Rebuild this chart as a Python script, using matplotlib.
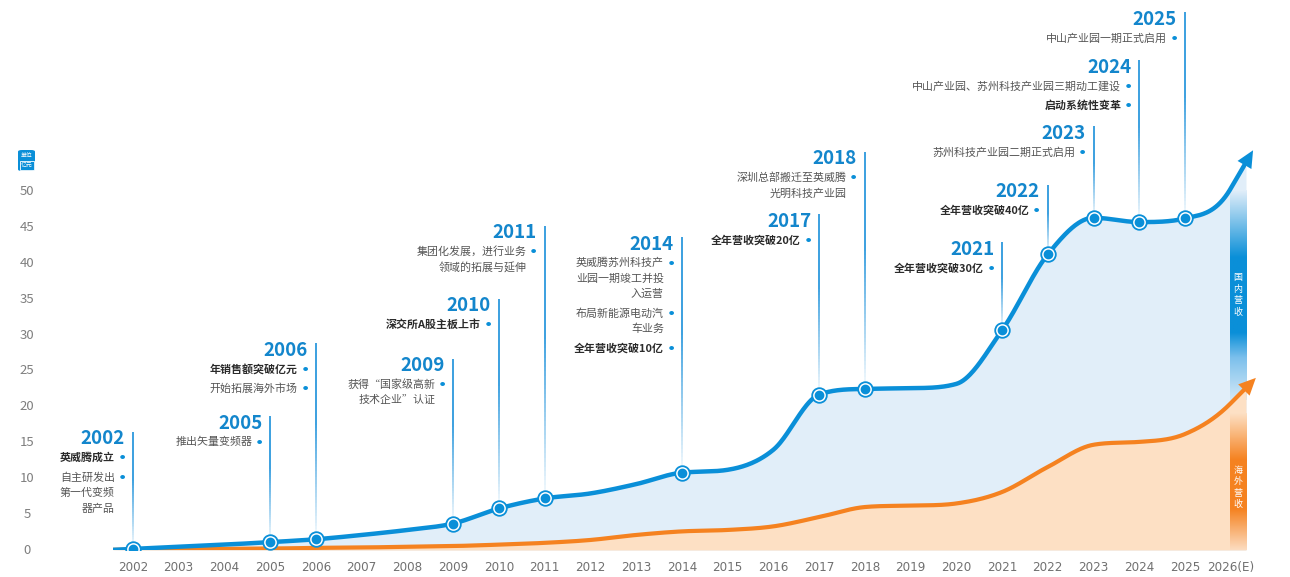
import numpy as np
import matplotlib
matplotlib.use("Agg")
import matplotlib.pyplot as plt
import matplotlib.transforms as mtransforms
from matplotlib.collections import LineCollection
from matplotlib.colors import to_rgba
from matplotlib.patches import Polygon, FancyBboxPatch, Rectangle

# ---- data (revenue, 亿元) ----
years = list(range(2002, 2027))
year_labels = [str(y) for y in range(2002, 2026)] + ["2026(E)"]
total_rev = [0.15, 0.45, 0.75, 1.1, 1.5, 2.1, 2.8, 3.7, 5.8, 7.2, 7.9, 9.2, 10.8,
             11.2, 14.0, 21.7, 22.5, 22.6, 23.2, 30.7, 41.3, 46.4, 45.8, 46.3, 50.5]
overseas_rev = [0.05, 0.1, 0.15, 0.2, 0.3, 0.35, 0.45, 0.55, 0.75, 1.0, 1.4, 2.1, 2.6,
                2.8, 3.3, 4.6, 6.0, 6.2, 6.5, 8.1, 11.6, 14.7, 15.1, 16.2, 20.5]
y_ticks = [0, 5, 10, 15, 20, 25, 30, 35, 40, 45, 50]

event_years = [2002, 2005, 2006, 2009, 2010, 2011, 2014, 2017, 2018, 2021, 2022, 2023, 2024, 2025]
event_tops = [16.5, 18.7, 28.9, 26.7, 35.1, 45.3, 43.7, 46.9, 55.6, 43.0, 51.0, 59.2, 68.4, 75.1]
event_items = [
    [(["英威腾成立"], True), (["自主研发出", "第一代变频", "器产品"], False)],
    [(["推出矢量变频器"], False)],
    [(["年销售额突破亿元"], True), (["开始拓展海外市场"], False)],
    [(["获得“国家级高新", "技术企业”认证"], False)],
    [(["深交所A股主板上市"], True)],
    [(["集团化发展，进行业务", "领域的拓展与延伸"], False)],
    [(["英威腾苏州科技产", "业园一期竣工并投", "入运营"], False),
     (["布局新能源电动汽", "车业务"], False),
     (["全年营收突破10亿"], True)],
    [(["全年营收突破20亿"], True)],
    [(["深圳总部搬迁至英威腾", "光明科技产业园"], False)],
    [(["全年营收突破30亿"], True)],
    [(["全年营收突破40亿"], True)],
    [(["苏州科技产业园二期正式启用"], False)],
    [(["中山产业园、苏州科技产业园三期动工建设"], False), (["启动系统性变革"], True)],
    [(["中山产业园一期正式启用"], False)],
]

BLUE = "#0a8fd8"
LIGHT_BLUE = "#e1eef9"
ORANGE = "#f58220"
LIGHT_ORANGE = "#fde0c4"
YEAR_BLUE = "#1386cc"
LINE_BLUE = "#3ba0e0"
TEXT_GREY = "#555555"
TEXT_DARK = "#2b2b2b"
PX = 0.72  # points per pixel at dpi 100

plt.rcParams['font.family'] = ['Noto Sans CJK SC', 'DejaVu Sans']


def hermite_curve(x, y, end_k, n=40):
    # monotone cubic (Fritsch-Carlson), last tangent steepened for the forecast
    x = np.asarray(x, float)
    y = np.asarray(y, float)
    d = np.diff(y) / np.diff(x)
    m = np.zeros_like(y)
    m[0] = d[0]
    for i in range(1, len(y) - 1):
        if d[i - 1] * d[i] > 0:
            m[i] = (d[i - 1] + d[i]) / 2
    for i in range(len(d) - 1):
        if d[i] == 0:
            m[i] = m[i + 1] = 0
            continue
        a, b = m[i] / d[i], m[i + 1] / d[i]
        s = a * a + b * b
        if s > 9:
            t = 3 / np.sqrt(s)
            m[i] = t * a * d[i]
            m[i + 1] = t * b * d[i]
    m[-1] = end_k * d[-1]
    xs, ys = [], []
    for i in range(len(d)):
        t = np.linspace(0, 1, n, endpoint=False)
        h = x[i + 1] - x[i]
        h00 = 2 * t**3 - 3 * t**2 + 1
        h10 = t**3 - 2 * t**2 + t
        h01 = -2 * t**3 + 3 * t**2
        h11 = t**3 - t**2
        xs.append(x[i] + t * h)
        ys.append(h00 * y[i] + h10 * h * m[i] + h01 * y[i + 1] + h11 * h * m[i + 1])
    xs.append([x[-1]])
    ys.append([y[-1]])
    return np.concatenate(xs), np.concatenate(ys), m[0], m[-1]


def extend(xs, ys, m0, m1, x_left, x_right):
    # continue the curve straight to the plot edges
    xl = np.array([x_left])
    yl = np.maximum(ys[:1] - m0 * (xs[0] - x_left), 0)
    xr = np.linspace(xs[-1], x_right, 10)[1:]
    yr = ys[-1] + m1 * (xr - xs[-1])
    return np.concatenate([xl, xs, xr]), np.concatenate([yl, ys, yr])


def arrow_head(ax, x, y, slope, color, length=17, half_w=8):
    p0 = ax.transData.transform((x, y))
    p1 = ax.transData.transform((x + 0.1, y + 0.1 * slope))
    u = (p1 - p0) / np.linalg.norm(p1 - p0)
    nrm = np.array([-u[1], u[0]])
    base = p0 - u * 3
    pts = [base + nrm * half_w, base + u * length, base - nrm * half_w]
    pts = ax.transData.inverted().transform(pts)
    ax.add_patch(Polygon(pts, closed=True, color=color, lw=0, zorder=6, clip_on=False))


def strip(ax, x0, x1, y0, y1, stops, zorder):
    n = 200
    f = np.linspace(0, 1, n)
    pos = [s[0] for s in stops]
    cols = np.array([to_rgba(s[1]) for s in stops])
    img = np.zeros((n, 1, 4))
    for c in range(4):
        img[:, 0, c] = np.interp(f, pos, cols[:, c])
    ax.imshow(img, extent=[x0, x1, y0, y1], origin='lower', aspect='auto',
              interpolation='bilinear', zorder=zorder)


def draw_event(ax, year, top, base, items):
    ys = np.linspace(base, top, 61)
    segs = [[(year, ys[i]), (year, ys[i + 1])] for i in range(60)]
    t = np.linspace(0, 1, 60)
    colors = [to_rgba(LINE_BLUE, a) for a in np.clip(0.05 + t * 1.6, 0, 1)]
    ax.add_collection(LineCollection(segs, colors=colors, linewidths=1.4, zorder=2))
    ax.annotate(str(year), (year, top), xytext=(-8 * PX, 2.5 * PX), textcoords='offset points',
                ha='right', va='top', fontsize=13.5, fontweight='bold', color=YEAR_BLUE,
                annotation_clip=False)
    dy = 26
    for lines, bold in items:
        ax.annotate('●', (year, top), xytext=(-11 * PX, -dy * PX), textcoords='offset points',
                    ha='center', va='center', fontsize=3.8, color=BLUE, annotation_clip=False)
        for k, line in enumerate(lines):
            ax.annotate(line, (year, top), xytext=(-18 * PX, -dy * PX), textcoords='offset points',
                        ha='right', va='center', fontsize=7.9,
                        fontweight='bold' if bold else 'normal',
                        color=TEXT_DARK if bold else TEXT_GREY, annotation_clip=False)
            if k < len(lines) - 1:
                dy += 15.5
        dy += 19.5


fig = plt.figure(figsize=(12.9, 5.77), dpi=100)
ax = fig.add_axes([113 / 1290, 27 / 577, 1133 / 1290, 550 / 577])
x_left, x_right = 2001.563, 2026.333
ax.set_xlim(x_left, x_right)
ax.set_ylim(0, 550 / 7.16)
for s in ax.spines.values():
    s.set_visible(False)

bx, by, bm0, bm1 = hermite_curve(years, total_rev, 2.6)
ox, oy, om0, om1 = hermite_curve(years, overseas_rev, 1.5)
bx2, by2 = extend(bx, by, bm0, bm1, x_left, x_right)
ox2, oy2 = extend(ox, oy, om0, om1, x_left, x_right)

ax.fill_between(bx2, 0, by2, color=LIGHT_BLUE, lw=0, zorder=1)
strip(ax, 2025.98, x_right, overseas_rev[-1] + 0.5, total_rev[-1] - 0.3,
      [(0, "#d2e8f7"), (0.2, "#7cc0ec"), (0.32, BLUE), (0.68, BLUE), (1, LIGHT_BLUE)], 1.5)
ax.fill_between(ox2, 0, oy2, color=LIGHT_ORANGE, lw=0, zorder=3)
strip(ax, 2025.98, x_right, 0, overseas_rev[-1] - 1.5,
      [(0, "#fcdcc0"), (0.3, ORANGE), (0.66, ORANGE), (1, LIGHT_ORANGE)], 3.5)

ax.text(2026.16, 35.6, "\n".join("国内营收"), ha='center', va='center', fontsize=6.5,
        color='white', linespacing=1.35, zorder=3.6)
ax.text(2026.16, 8.7, "\n".join("海外营收"), ha='center', va='center', fontsize=6.5,
        color='white', linespacing=1.35, zorder=3.6)

ax.plot(ox2, oy2, color=ORANGE, lw=3, solid_capstyle='butt', zorder=4)
ax.plot(bx2, by2, color=BLUE, lw=3.2, solid_capstyle='butt', zorder=5)
arrow_head(ax, bx2[-1], by2[-1], bm1, BLUE)
arrow_head(ax, ox2[-1], oy2[-1], om1, ORANGE)

# milestones
for yr, top, items in zip(event_years, event_tops, event_items):
    base = total_rev[years.index(yr)]
    draw_event(ax, yr, top, base, items)
    ax.plot(yr, base, 'o', ms=10.5, mfc='white', mec=BLUE, mew=1.3, zorder=7)
    ax.plot(yr, base, 'o', ms=6, mfc=BLUE, mec=BLUE, zorder=8)

# axes labels
ax.set_xticks(years)
ax.set_xticklabels(year_labels, fontsize=9.5, color='#707070', fontstretch='condensed',
                   family=['DejaVu Sans'])
ax.tick_params(axis='x', length=0, pad=8)
ax.set_yticks([])
trans = mtransforms.blended_transform_factory(fig.transFigure, ax.transData)
for v in y_ticks:
    ax.text(27 / 1290, v, str(v), transform=trans, ha='center', va='center',
            fontsize=9.5, color='#7f7f7f', clip_on=False)

# unit badge
fig.patches.append(FancyBboxPatch((18 / 1290, 406 / 577), 17 / 1290, 21 / 577,
                                  boxstyle='round,pad=0,rounding_size=0.003',
                                  transform=fig.transFigure, color=BLUE, lw=0))
fig.patches.append(Rectangle((19.5 / 1290, 407.5 / 577), 14 / 1290, 9 / 577,
                             transform=fig.transFigure, fill=False, ec='white', lw=0.6))
fig.text(26.5 / 1290, 421.5 / 577, "单位", ha='center', va='center', fontsize=4.2, color='white')
fig.text(26.5 / 1290, 412 / 577, "亿元", ha='center', va='center', fontsize=4.2, color='white')

fig.savefig("out.png", dpi=100)
